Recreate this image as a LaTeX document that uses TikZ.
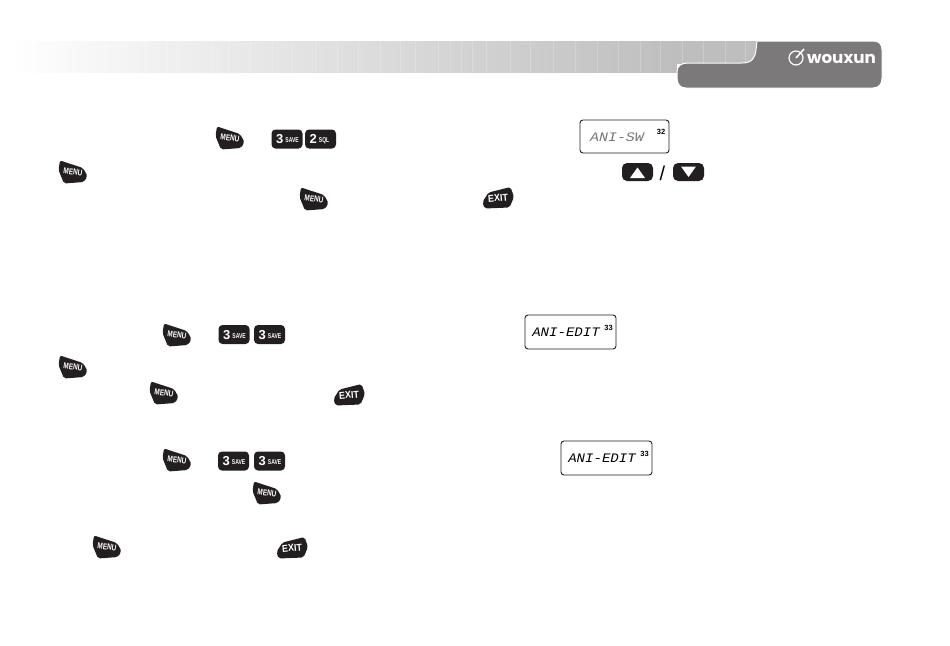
\documentclass[tikz,border=0pt]{standalone}
\usepackage{fontspec}
\setmainfont{Liberation Sans}
\newfontfamily\logofont{Poppins}
\newfontfamily\lcdfont{Liberation Mono}
\usetikzlibrary{positioning}
\definecolor{tabgray}{HTML}{7B7979}
\definecolor{bandgray}{HTML}{BEBEBE}
\definecolor{keyblack}{HTML}{231F20}
\definecolor{lcdgray}{HTML}{777777}
\tikzset{
  keytext/.style={text=white, inner sep=0, font=\bfseries},
  lcdbox/.style={draw=keyblack, line width=.9pt, rounded corners=3pt, inner sep=0},
  lcdtext/.style={inner sep=0, font=\lcdfont\itshape\fontsize{13}{13}\selectfont},
  lcdnum/.style={inner sep=0, font=\bfseries\fontsize{7.5}{7.5}\selectfont},
}
\begin{document}
\begin{tikzpicture}[x=1pt, y=-1pt]
\def\menukey#1#2{
  \fill [keyblack, rounded corners=2pt, shift={(#2)}] (-13,-11.5) -- (10,-4) -- (14.5,4) -- (11,10) -- (-9,11.5) -- (-14.5,-2) -- cycle;
  \node [keytext, rotate=-8] (#1) at (#2) {\fontsize{8.5}{8.5}\selectfont\scalebox{.76}[1]{MENU}};
}
\def\exitkey#1#2{
  \fill [keyblack, rounded corners=2pt, shift={(#2)}] (12.5,-11) -- (-9.5,-5.5) -- (-15.5,4) -- (-13.5,10.5) -- (11.5,9.5) -- (16,-1) -- cycle;
  \node [keytext, rotate=5] (#1) at (#2) {\fontsize{10}{10}\selectfont\scalebox{.9}[1]{EXIT}};
}
\def\numkey#1#2#3#4{
  \fill [keyblack, rounded corners=4pt, shift={(#2)}] (-15.5,-9.5) rectangle (15.5,9.5);
  \node [keytext, anchor=base west, xshift=-11pt, yshift=-4.5pt] (#1) at (#2) {\fontsize{13}{13}\selectfont #3\hspace{2pt}\fontsize{7}{7}\selectfont\raisebox{1pt}{\scalebox{.72}[1]{#4}}};
}
\useasboundingbox (0,0) rectangle (950,645);

\shade [left color=white, right color=bandgray] (10,41) rectangle (677,72);
\fill [bandgray] (677,41) rectangle (760,72);
\fill [white] (677,64) rectangle (760,72);
\foreach \x in {85,100,122,145,167,190,212,229,250,272,292,315,337,358,380,400,415,438,450,461,472,486,510,530,553,575,597,618,640,660,682,703,725,745}
  \draw [white, opacity=.2, line width=.5pt] (\x,41) -- (\x,72);

\draw [white, line width=1pt, fill=tabgray] (757,41) -- (873,41) .. controls (879,41) and (882,44) .. (882,50) -- (882,78) .. controls (882,84) and (879,88) .. (873,88) -- (686,88) .. controls (680,88) and (677,84) .. (677,78) -- (677,72) .. controls (677,66) and (681,63) .. (688,63) -- (742,63) .. controls (752,63) and (755,58) .. (756,50) -- cycle;

\node [text=white, inner sep=0, font=\logofont\bfseries\fontsize{15.5}{15.5}\selectfont] (logo) at (841.5,59) {\scalebox{1.08}[1.05]{wouxun}};
\node [circle, draw=white, line width=1.2pt, inner sep=0, minimum size=14pt] (logomark) at (796,58) {};
\draw [white, line width=1.6pt] (logomark.center) -- (804,49);

\menukey{menua}{230,138}
\numkey{savea}{287,139}{3}{SAVE}
\numkey{sqla}{320.5,139}{2}{SQL}
\menukey{menub}{73,172}
\menukey{menuc}{314,199}

\node [lcdbox, minimum width=89pt, minimum height=33pt] (lcdsw) at (624.5,136.5) {};
\node [lcdtext, text=lcdgray] (lcdswtext) at (617,137) {\scalebox{1.15}[1]{ANI-SW}};
\node [lcdnum] (lcdswnum) at (661,132) {32};

\fill [keyblack, rounded corners=5pt] (622,163) rectangle (653,181);
\fill [white] (630,178) -- (645,178) -- (637.5,167.5) -- cycle;
\fill [keyblack, rounded corners=5pt] (673,163) rectangle (704,181);
\fill [white] (681,166.5) -- (696,166.5) -- (688.5,177) -- cycle;
\node [inner sep=0, font=\fontsize{20}{20}\selectfont] (keysep) at (662.5,173) {/};
\exitkey{exita}{498,198}

\menukey{menud}{177,335}
\numkey{saveb}{234,334.5}{3}{SAVE}
\numkey{savec}{269.5,334.5}{3}{SAVE}
\menukey{menue}{73,367}
\menukey{menuf}{164,393}
\exitkey{exitb}{349,395}

\node [lcdbox, minimum width=91pt, minimum height=34pt] (lcdea) at (570.5,332) {};
\node [lcdtext] (lcdeatext) at (566,332.5) {\scalebox{1.08}[1]{ANI-EDIT}};
\node [lcdnum] (lcdeanum) at (608.5,327.5) {33};

\menukey{menug}{177,460}
\numkey{saved}{233.5,461}{3}{SAVE}
\numkey{savee}{269.5,461}{3}{SAVE}
\menukey{menuh}{267,493}
\menukey{menui}{107,547}
\exitkey{exitc}{292,548}

\node [lcdbox, minimum width=91pt, minimum height=34pt] (lcdeb) at (606.5,458) {};
\node [lcdtext] (lcdebtext) at (602,458.5) {\scalebox{1.08}[1]{ANI-EDIT}};
\node [lcdnum] (lcdebnum) at (644.5,453.5) {33};
\end{tikzpicture}
\end{document}
